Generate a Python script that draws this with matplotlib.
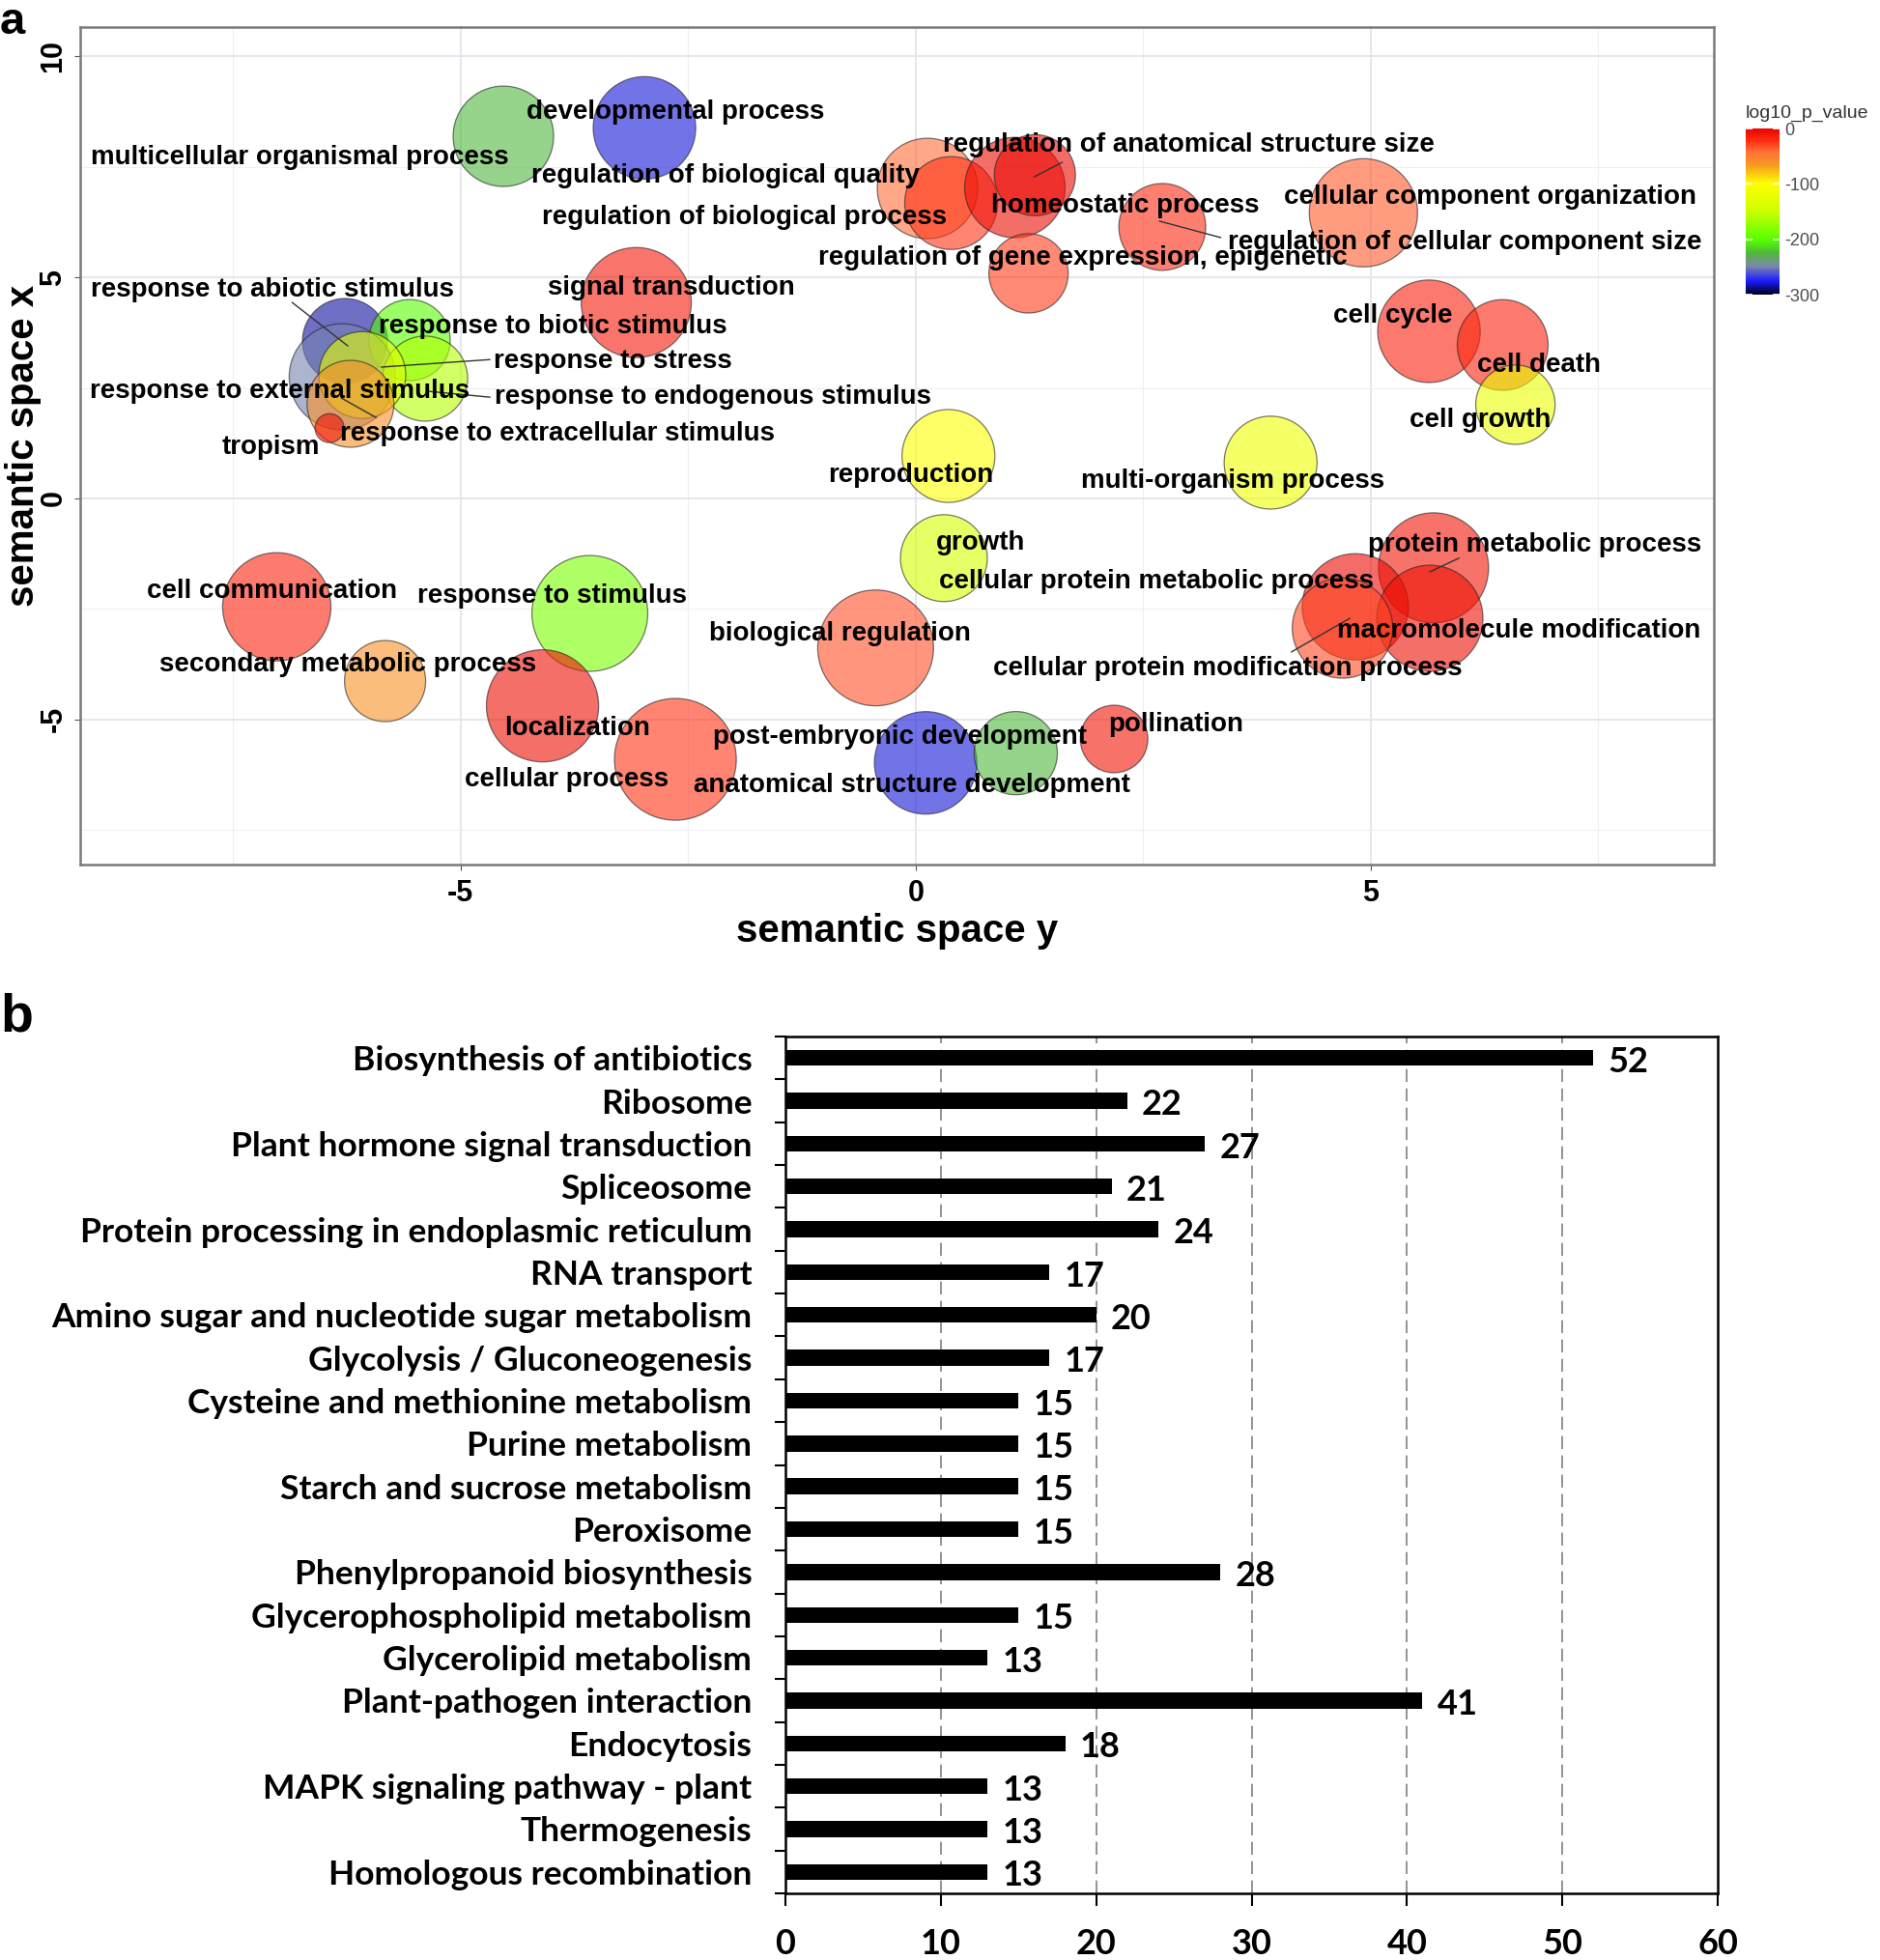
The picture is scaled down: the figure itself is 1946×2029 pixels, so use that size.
import numpy as np
import matplotlib.pyplot as plt
from matplotlib.colors import LinearSegmentedColormap, Normalize
from matplotlib.cm import ScalarMappable

plt.rcParams["axes.unicode_minus"] = False

# ---------------- panel a : semantic space of GO terms ----------------
terms = ["multicellular organismal process", "developmental process",
         "regulation of biological quality", "regulation of biological process",
         "regulation of anatomical structure size", "homeostatic process",
         "regulation of gene expression, epigenetic", "regulation of cellular component size",
         "cellular component organization", "signal transduction", "cell cycle",
         "cell death", "cell growth", "reproduction", "multi-organism process", "growth",
         "protein metabolic process", "cellular protein metabolic process",
         "macromolecule modification", "cellular protein modification process",
         "cell communication", "response to stimulus", "biological regulation",
         "secondary metabolic process", "localization", "cellular process",
         "post-embryonic development", "anatomical structure development", "pollination",
         "response to abiotic stimulus", "response to biotic stimulus",
         "response to external stimulus", "response to endogenous stimulus",
         "response to stress", "response to extracellular stimulus", "tropism"]

# semantic space y (horizontal) and semantic space x (vertical)
plot_x = [-4.53, -2.98, 0.13, 0.39, 1.09, 1.31, 1.24, 2.71, 4.92, -3.07, 5.64, 6.45,
          6.59, 0.36, 3.90, 0.31, 5.69, 4.83, 5.65, 4.69, -7.02, -3.58, -0.44, -5.83,
          -4.10, -2.64, 0.11, 1.10, 2.18, -6.27, -5.56, -6.30, -5.39, -6.08, -6.21, -6.44]
plot_y = [8.19, 8.38, 7.01, 6.68, 7.03, 7.31, 5.09, 6.14, 6.46, 4.43, 3.78, 3.47,
          2.12, 0.96, 0.81, -1.35, -1.57, -2.45, -2.71, -2.93, -2.45, -2.60, -3.38, -4.13,
          -4.69, -5.90, -5.98, -5.76, -5.44, 3.56, 3.58, 2.75, 2.71, 2.79, 2.14, 1.59]
log_size = [3.85, 3.93, 3.85, 3.56, 3.85, 3.11, 3.04, 3.33, 4.15, 4.22, 3.93, 3.48,
            3.04, 3.56, 3.56, 3.33, 4.22, 4.07, 4.07, 3.85, 4.15, 4.44, 4.44, 3.11,
            4.30, 4.67, 3.93, 3.19, 2.59, 3.26, 3.11, 4.07, 3.26, 3.33, 3.33, 1.11]
log10_p_value = [-226, -280, -42, -24, -5, -3, -26, -20, -36, -12, -16, -18,
                 -120, -100, -115, -138, -10, -4, -7, -30, -18, -185, -32, -62,
                 -6, -24, -280, -226, -10, -285, -200, -250, -160, -125, -60, -8]

label_x = [-6.77, -2.64, -2.09, -1.88, 3.00, 2.30, 1.84, 6.03, 6.31, -2.69, 5.24, 6.85,
           6.20, -0.05, 3.48, 0.71, 6.80, 2.64, 6.63, 3.43, -7.07, -3.99, -0.83, -6.24,
           -3.72, -3.83, -0.17, -0.04, 2.86, -7.07, -3.99, -6.99, -2.23, -3.33, -3.94, -7.08]
label_y = [7.71, 8.73, 7.29, 6.35, 7.99, 6.62, 5.44, 5.79, 6.81, 4.76, 4.13, 3.01,
           1.77, 0.52, 0.39, -1.00, -1.05, -1.88, -2.99, -3.84, -2.10, -2.21, -3.06, -3.76,
           -5.20, -6.35, -5.39, -6.48, -5.11, 4.72, 3.89, 2.42, 2.29, 3.10, 1.46, 1.16]

# leader lines from labels to bubbles
leaders = [((-6.85, 4.43), (-6.24, 3.45)), ((-4.68, 3.14), (-5.87, 2.97)),
           ((-4.68, 2.29), (-5.34, 2.42)), ((-5.93, 1.83), (-6.31, 2.27)),
           ((1.30, 7.27), (1.61, 7.60)), ((2.68, 6.27), (3.35, 5.90)),
           ((5.65, -1.66), (5.97, -1.35)), ((4.13, -3.47), (4.77, -2.71))]

# ---------------- panel b : KEGG pathways ----------------
pathways = ["Biosynthesis of antibiotics", "Ribosome", "Plant hormone signal transduction",
            "Spliceosome", "Protein processing in endoplasmic reticulum", "RNA transport",
            "Amino sugar and nucleotide sugar metabolism", "Glycolysis / Gluconeogenesis",
            "Cysteine and methionine metabolism", "Purine metabolism",
            "Starch and sucrose metabolism", "Peroxisome", "Phenylpropanoid biosynthesis",
            "Glycerophospholipid metabolism", "Glycerolipid metabolism",
            "Plant-pathogen interaction", "Endocytosis", "MAPK signaling pathway - plant",
            "Thermogenesis", "Homologous recombination"]
gene_counts = [52, 22, 27, 21, 24, 17, 20, 17, 15, 15, 15, 15, 28, 15, 13, 41, 18, 13, 13, 13]

W, H = 1946, 2029
fig = plt.figure(figsize=(W / 100, H / 100), dpi=100)
ARIAL = "Liberation Sans"

cmap = LinearSegmentedColormap.from_list("revigo", [
    (0.00, "#000018"), (0.08, "#1a1aff"), (0.17, "#7c88aa"), (0.25, "#4fb83a"),
    (0.33, "#55ff00"), (0.50, "#ccff00"), (0.67, "#ffff00"), (0.78, "#f59a20"),
    (0.86, "#ff7038"), (0.93, "#ff2a10"), (1.00, "#e80500")])
norm = Normalize(-300, 0)

ax = fig.add_axes([83 / W, 1 - 895 / H, (1774 - 83) / W, (895 - 28) / H])
ax.set_xlim(-9.18, 8.77)
ax.set_ylim(-8.28, 10.66)
ax.set_xticks([-5, 0, 5])
ax.set_yticks([-5, 0, 5, 10])
ax.set_xticks([-7.5, -2.5, 2.5, 7.5], minor=True)
ax.set_yticks([-7.5, -2.5, 2.5, 7.5], minor=True)
ax.grid(which="major", color="#e4e4ea", lw=1.3, zorder=0)
ax.grid(which="minor", color="#efeff3", lw=0.8, zorder=0)
ax.tick_params(which="minor", length=0)
ax.tick_params(which="major", length=4, color="#555555", labelsize=22)
ax.tick_params(axis="x", pad=7)
ax.tick_params(axis="y", labelrotation=90, pad=5)
for t in ax.get_xticklabels() + ax.get_yticklabels():
    t.set_fontweight("bold")
    t.set_family(ARIAL)
for t in ax.get_yticklabels():
    t.set_va("center")
for sp in ax.spines.values():
    sp.set_color("#7a7a7a")
    sp.set_linewidth(1.8)

sizes = [(2 * 13.5 * v * 0.72) ** 2 for v in log_size]
ax.scatter(plot_x, plot_y, s=sizes, c=log10_p_value, cmap=cmap, norm=norm,
           alpha=0.6, edgecolors="#222222", linewidths=0.9, zorder=2)

for (p0, p1) in leaders:
    ax.plot([p0[0], p1[0]], [p0[1], p1[1]], color="#333333", lw=1.0, zorder=3)

for name, lx, ly in zip(terms, label_x, label_y):
    ax.text(lx, ly, name, ha="center", va="center", fontsize=20, fontweight="bold",
            family=ARIAL, color="black", zorder=4)

ax.set_xlabel("semantic space y", fontsize=29, fontweight="bold", family=ARIAL)
ax.set_ylabel("semantic space x", fontsize=29, fontweight="bold", family=ARIAL)
ax.xaxis.set_label_coords(0.5, -(964 - 895) / 867)
ax.yaxis.set_label_coords(-(83 - 24) / 1691, 0.5)
ax.xaxis.label.set_va("center")
ax.yaxis.label.set_va("center")

# colour legend
cax = fig.add_axes([1807 / W, 1 - 305 / H, 35 / W, 172 / H])
cb = fig.colorbar(ScalarMappable(norm=norm, cmap=cmap), cax=cax, ticks=[0, -100, -200, -300])
cb.outline.set_visible(False)
cax.tick_params(which="both", left=True, right=True, direction="in", color="white",
                length=5, width=1.2, labelsize=13, labelcolor="#4d4d4d", pad=4)
for t in cax.get_yticklabels():
    t.set_family(ARIAL)
cax.minorticks_off()
fig.text(1807 / W, 1 - 117 / H, "log10_p_value", fontsize=14, color="#333333",
         ha="left", va="center", family=ARIAL)

# ---------------- panel b ----------------
bx = fig.add_axes([813 / W, 1 - 1960 / H, (1778 - 813) / W, (1960 - 1073) / H])
ypos = np.arange(len(pathways))
bx.barh(ypos, gene_counts, height=0.37, color="black", zorder=3)
for yy, v in zip(ypos, gene_counts):
    bx.annotate(str(v), (v, yy), xytext=(11, -3), textcoords="offset points",
                ha="left", va="center", fontsize=26, fontweight="bold", family="Lato")
for gx in [10, 20, 30, 40, 50]:
    bx.axvline(gx, color="#808080", lw=1.2, ls=(0, (8, 4)), zorder=1)
bx.set_xlim(0, 60)
bx.set_ylim(len(pathways) - 0.5, -0.5)
bx.set_xticks(range(0, 61, 10))
bx.set_yticks(ypos)
bx.set_yticklabels(pathways)
bx.set_yticks(np.arange(-0.5, len(pathways), 1), minor=True)
bx.tick_params(axis="y", which="major", length=0, pad=25, labelsize=25.5)
bx.tick_params(axis="y", which="minor", length=8, width=1.5)
bx.tick_params(axis="x", length=9, width=1.5, pad=17, labelsize=26)
for t in bx.get_xticklabels() + bx.get_yticklabels():
    t.set_fontweight("bold")
    t.set_family("Lato")
for sp in bx.spines.values():
    sp.set_color("black")
    sp.set_linewidth(1.8)

fig.text(0.0, 1 - 1 / H, "a", fontsize=34, fontweight="bold", ha="left",
         va="top", family=ARIAL)
fig.text(0.0, 1 - 1067 / H, "b", fontsize=40, fontweight="bold", ha="left",
         va="baseline", family=ARIAL)

fig.savefig("out.png", dpi=100)
